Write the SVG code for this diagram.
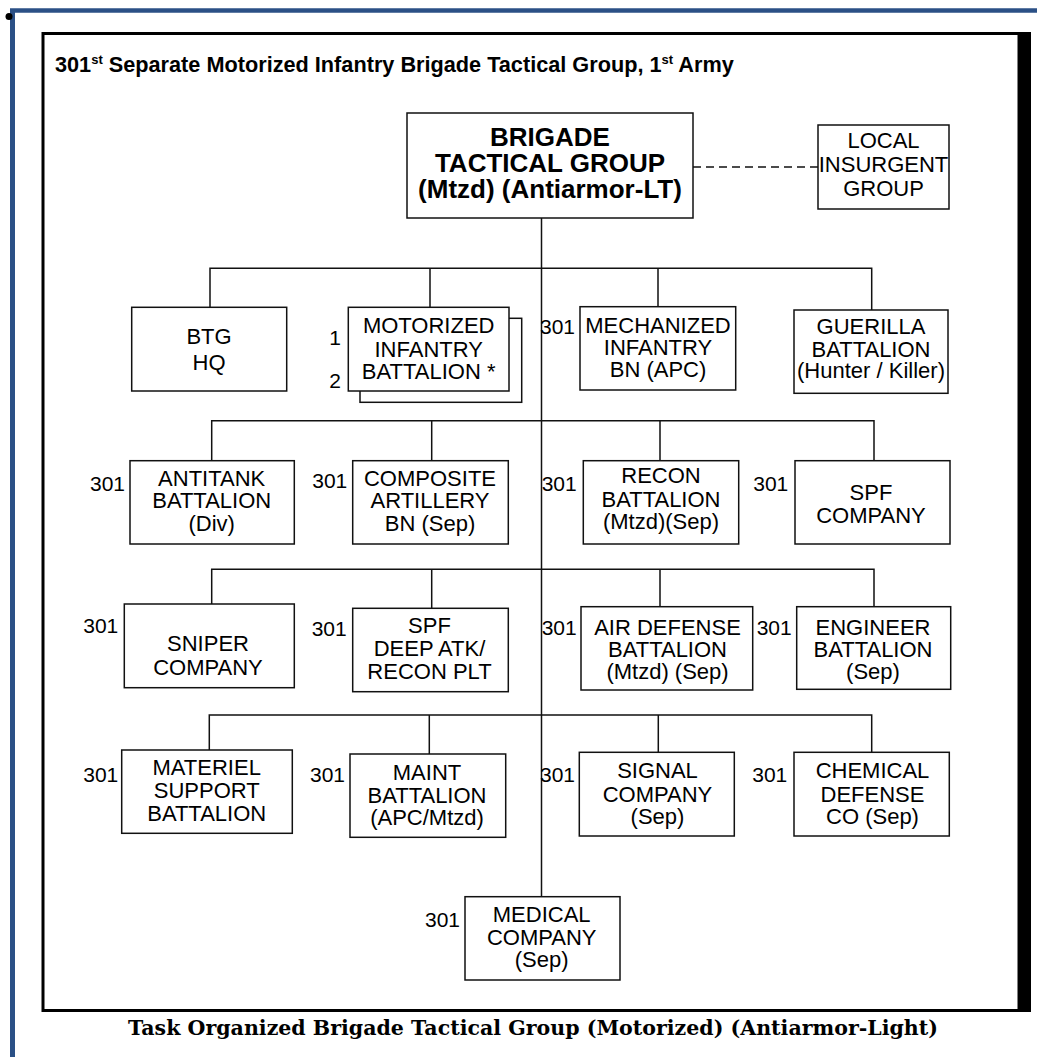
<svg xmlns="http://www.w3.org/2000/svg" width="1037" height="1057" viewBox="0 0 1037 1057">
<style>
  .box { fill: #fff; stroke: #111; stroke-width: 1.5; }
  .ln { fill: none; stroke: #111; stroke-width: 1.5; }
  .t { font-family: "Liberation Sans", Arial, sans-serif; font-size: 22px; fill: #000; text-anchor: middle; }
  .tb { font-family: "Liberation Sans", Arial, sans-serif; font-size: 26px; font-weight: bold; fill: #000; text-anchor: middle; }
  .lb { font-family: "Liberation Sans", Arial, sans-serif; font-size: 21px; fill: #000; text-anchor: end; }
</style>
<rect x="0" y="0" width="1037" height="1057" fill="#fff"/>
<g id="page-border">
  <line x1="10" y1="10.5" x2="1037" y2="10.5" stroke="#2b5086" stroke-width="4.5"/>
  <line x1="12.5" y1="10" x2="12.5" y2="1057" stroke="#2b5086" stroke-width="5"/>
  <circle cx="9" cy="16.5" r="3.5" fill="#000"/>
  <rect x="43" y="33.5" width="976" height="977" fill="none" stroke="#000" stroke-width="3"/>
  <rect x="1018" y="32" width="13" height="980" fill="#000"/>
</g>
<g id="title">
  <text x="55" y="72" font-family="'Liberation Sans', Arial, sans-serif" font-size="21.7" font-weight="bold">301<tspan font-size="13" dy="-8">st</tspan><tspan dy="8"> Separate Motorized Infantry Brigade Tactical Group, 1</tspan><tspan font-size="13" dy="-8">st</tspan><tspan dy="8"> Army</tspan></text>
</g>
<g id="connectors">
  <line class="ln" x1="541.5" y1="218" x2="541.5" y2="897"/>
  <line class="ln" x1="693" y1="167" x2="818" y2="167" stroke-dasharray="8,5"/>
  <path class="ln" d="M210,307 V268.3 H871.7 V310 M430,268.3 V307 M658,268.3 V307"/>
  <path class="ln" d="M211.7,460.7 V420.7 H874 V460.7 M431.7,420.7 V460.7 M660,420.7 V460.7"/>
  <path class="ln" d="M211.7,604 V569.3 H874 V606.7 M431.7,569.3 V608.3 M660,569.3 V606.7"/>
  <path class="ln" d="M209.3,750 V715 H871.7 V752.3 M429.3,715 V754 M658.3,715 V752.3"/>
</g>
<g id="btg">
  <rect class="box" x="407" y="113" width="286" height="105"/>
  <text class="tb" x="550" y="146">BRIGADE</text>
  <text class="tb" x="550" y="172">TACTICAL GROUP</text>
  <text class="tb" x="550" y="198">(Mtzd) (Antiarmor-LT)</text>
</g>
<g id="local-insurgent">
  <rect class="box" x="818" y="125" width="131" height="84"/>
  <text class="t" x="883.5" y="148" font-size="19.5">LOCAL</text>
  <text class="t" x="883.5" y="172" font-size="19.5">INSURGENT</text>
  <text class="t" x="883.5" y="196" font-size="19.5">GROUP</text>
</g>
<g id="btg-hq">
  <rect class="box" x="131.7" y="307.3" width="155" height="83.7"/>
  <text class="t" x="209" y="343.5">BTG</text>
  <text class="t" x="209" y="369.5">HQ</text>
</g>
<g id="mot-inf">
  <rect class="box" x="360" y="318.3" width="161.7" height="84"/>
  <rect class="box" x="348.3" y="307.3" width="160.7" height="83.7"/>
  <text class="t" x="428.7" y="333.3">MOTORIZED</text>
  <text class="t" x="428.7" y="356.7">INFANTRY</text>
  <text class="t" x="428.7" y="379">BATTALION *</text>
  <text class="lb" x="341" y="345">1</text>
  <text class="lb" x="341" y="388.3">2</text>
</g>
<g id="mech-inf">
  <rect class="box" x="580" y="306.7" width="155.7" height="83.3"/>
  <text class="t" x="658" y="332.7">MECHANIZED</text>
  <text class="t" x="658" y="355">INFANTRY</text>
  <text class="t" x="658" y="377.3">BN (APC)</text>
  <text class="lb" x="575" y="334">301</text>
</g>
<g id="guerilla">
  <rect class="box" x="794" y="310" width="154" height="83.3"/>
  <text class="t" x="871" y="334">GUERILLA</text>
  <text class="t" x="871" y="356.7">BATTALION</text>
  <text class="t" x="871" y="378.3">(Hunter / Killer)</text>
</g>
<g id="antitank">
  <rect class="box" x="130" y="460.7" width="164.3" height="83.3"/>
  <text class="t" x="211.7" y="486">ANTITANK</text>
  <text class="t" x="211.7" y="508.3">BATTALION</text>
  <text class="t" x="211.7" y="530.7">(Div)</text>
  <text class="lb" x="125" y="490.7">301</text>
</g>
<g id="composite-arty">
  <rect class="box" x="352.7" y="460.7" width="155.6" height="83.3"/>
  <text class="t" x="430" y="486">COMPOSITE</text>
  <text class="t" x="430" y="508.3">ARTILLERY</text>
  <text class="t" x="430" y="530.7">BN (Sep)</text>
  <text class="lb" x="347.3" y="488.3">301</text>
</g>
<g id="recon">
  <rect class="box" x="583.3" y="460.7" width="155.4" height="83.3"/>
  <text class="t" x="661" y="483.3">RECON</text>
  <text class="t" x="661" y="506.7">BATTALION</text>
  <text class="t" x="661" y="529">(Mtzd)(Sep)</text>
  <text class="lb" x="576.7" y="490.7">301</text>
</g>
<g id="spf-company">
  <rect class="box" x="795" y="460.7" width="155" height="83.3"/>
  <text class="t" x="871" y="500">SPF</text>
  <text class="t" x="871" y="523.3">COMPANY</text>
  <text class="lb" x="788.3" y="490.7">301</text>
</g>
<g id="sniper">
  <rect class="box" x="124.3" y="604" width="170" height="83.7"/>
  <text class="t" x="208" y="650.7">SNIPER</text>
  <text class="t" x="208" y="675">COMPANY</text>
  <text class="lb" x="118.3" y="633.3">301</text>
</g>
<g id="spf-deep">
  <rect class="box" x="352.7" y="608.3" width="155.6" height="83.4"/>
  <text class="t" x="429.5" y="633.3">SPF</text>
  <text class="t" x="429.5" y="656">DEEP ATK/</text>
  <text class="t" x="429.5" y="679.3">RECON PLT</text>
  <text class="lb" x="346.7" y="636">301</text>
</g>
<g id="air-defense">
  <rect class="box" x="581" y="606.7" width="171.7" height="83.3"/>
  <text class="t" x="667.5" y="634.5">AIR DEFENSE</text>
  <text class="t" x="667.5" y="656.7">BATTALION</text>
  <text class="t" x="667.5" y="679">(Mtzd) (Sep)</text>
  <text class="lb" x="576.7" y="635">301</text>
</g>
<g id="engineer">
  <rect class="box" x="796.7" y="606.7" width="154" height="82.6"/>
  <text class="t" x="873" y="634.5">ENGINEER</text>
  <text class="t" x="873" y="656.7">BATTALION</text>
  <text class="t" x="873" y="679">(Sep)</text>
  <text class="lb" x="791.7" y="635">301</text>
</g>
<g id="materiel">
  <rect class="box" x="121.7" y="750" width="170.6" height="83.3"/>
  <text class="t" x="206.7" y="775">MATERIEL</text>
  <text class="t" x="206.7" y="797.7">SUPPORT</text>
  <text class="t" x="206.7" y="820.7">BATTALION</text>
  <text class="lb" x="118.3" y="781.7">301</text>
</g>
<g id="maint">
  <rect class="box" x="350" y="754" width="155.7" height="83.3"/>
  <text class="t" x="427" y="780">MAINT</text>
  <text class="t" x="427" y="802.7">BATTALION</text>
  <text class="t" x="427" y="825">(APC/Mtzd)</text>
  <text class="lb" x="345" y="781.7">301</text>
</g>
<g id="signal">
  <rect class="box" x="579.3" y="752.3" width="155" height="83.7"/>
  <text class="t" x="657.5" y="778.3">SIGNAL</text>
  <text class="t" x="657.5" y="801.7">COMPANY</text>
  <text class="t" x="657.5" y="824">(Sep)</text>
  <text class="lb" x="575" y="781.7">301</text>
</g>
<g id="chemical">
  <rect class="box" x="794" y="752.3" width="155.3" height="83.7"/>
  <text class="t" x="872.5" y="778.3">CHEMICAL</text>
  <text class="t" x="872.5" y="801.7">DEFENSE</text>
  <text class="t" x="872.5" y="824">CO (Sep)</text>
  <text class="lb" x="787.3" y="781.7">301</text>
</g>
<g id="medical">
  <rect class="box" x="465" y="896.7" width="155" height="83.3"/>
  <text class="t" x="541.7" y="921.7">MEDICAL</text>
  <text class="t" x="541.7" y="945">COMPANY</text>
  <text class="t" x="541.7" y="967.3">(Sep)</text>
  <text class="lb" x="460" y="926.7">301</text>
</g>
<g id="caption">
  <text x="533" y="1035" font-family="'DejaVu Serif', 'Liberation Serif', serif" font-size="21" font-weight="bold" text-anchor="middle" textLength="810" lengthAdjust="spacingAndGlyphs">Task Organized Brigade Tactical Group (Motorized) (Antiarmor-Light)</text>
</g>
</svg>
